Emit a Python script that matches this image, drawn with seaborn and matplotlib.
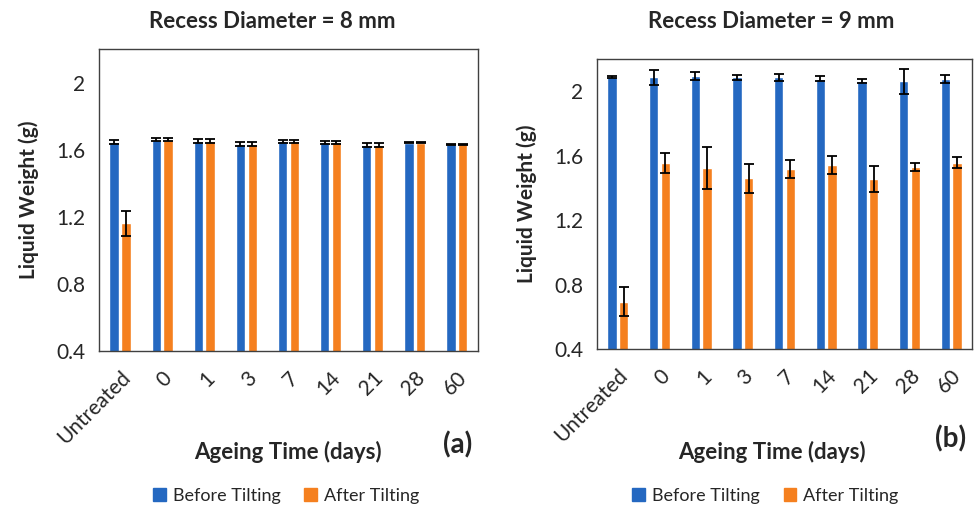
import seaborn as sns
import pandas as pd
import matplotlib.pyplot as plt
from matplotlib.patches import Patch

# ---------------- data ----------------
days = ['Untreated', '0', '1', '3', '7', '14', '21', '28', '60']
groups = ['Before Tilting', 'After Tilting']

# (a) recess diameter 8 mm
before_8 = [1.645, 1.660, 1.652, 1.634, 1.650, 1.644, 1.628, 1.642, 1.632]
before_8_err = [0.012, 0.010, 0.010, 0.014, 0.008, 0.010, 0.010, 0.004, 0.004]
after_8 = [1.160, 1.660, 1.652, 1.634, 1.650, 1.644, 1.628, 1.642, 1.632]
after_8_err = [0.075, 0.010, 0.010, 0.014, 0.008, 0.008, 0.010, 0.004, 0.004]

# (b) recess diameter 9 mm
before_9 = [2.087, 2.087, 2.097, 2.087, 2.087, 2.079, 2.064, 2.062, 2.077]
before_9_err = [0.006, 0.048, 0.025, 0.017, 0.020, 0.017, 0.012, 0.078, 0.023]
after_9 = [0.694, 1.556, 1.525, 1.459, 1.519, 1.544, 1.453, 1.532, 1.556]
after_9_err = [0.089, 0.062, 0.130, 0.088, 0.056, 0.056, 0.080, 0.025, 0.033]

colors = ['#2468C1', '#F5801F']

sns.set_style('white')
plt.rcParams['font.family'] = ['Lato', 'DejaVu Sans']

fig = plt.figure(figsize=(9.74, 5.05), dpi=100)
ax1 = fig.add_axes([0.1016, 0.305, 0.3891, 0.598])
ax2 = fig.add_axes([0.6129, 0.309, 0.3850, 0.574])


def draw_panel(ax, before, before_err, after, after_err, title, title_x, tag, legend_x, xlabel_x):
    df = pd.DataFrame({
        'day': days * 2,
        'weight': before + after,
        'group': [groups[0]] * len(days) + [groups[1]] * len(days),
    })
    sns.barplot(data=df, x='day', y='weight', hue='group', order=days,
                hue_order=groups, palette=colors, width=0.56, gap=0.21,
                errorbar=None, saturation=1, legend=False, ax=ax)
    errs = before_err + after_err
    for p, e in zip(ax.patches, errs):
        xc = p.get_x() + p.get_width() / 2
        ax.errorbar(xc, p.get_height(), yerr=e, color='black', lw=1.3,
                    capsize=3.6, capthick=1.3)

    ax.set_ylim(0.4, 2.2)
    ax.set_xlim(-0.5, 8.5)
    ax.set_yticks([0.4, 0.8, 1.2, 1.6, 2.0])
    ax.set_yticklabels(['0.4', '0.8', '1.2', '1.6', '2'])
    ax.tick_params(axis='y', length=5, width=1, color='#404040', labelsize=15, pad=5)
    ax.tick_params(axis='x', length=0, labelsize=15, pad=12)
    plt.setp(ax.get_xticklabels(), rotation=45, ha='right', rotation_mode='anchor')
    for s in ax.spines.values():
        s.set_visible(True)
        s.set_color('#404040')
        s.set_linewidth(1)

    # title on the same line in both panels
    fig.text(title_x, 1 - 22 / 505, title, ha='center', va='center',
             fontsize=16, fontweight='bold')
    ax.set_xlabel('Ageing Time (days)', fontsize=16, fontweight='bold')
    ax.xaxis.set_label_coords(xlabel_x, 1 - 452 / 505, transform=fig.transFigure)
    ax.xaxis.label.set_va('center')
    ax.set_ylabel('Liquid Weight (g)', fontsize=15, fontweight='bold', labelpad=12)
    ax.text(0.985, -0.31, tag, transform=ax.transAxes, ha='right', va='center',
            fontsize=20, fontweight='bold')

    handles = [Patch(color=c, label=g) for c, g in zip(colors, groups)]
    fig.legend(handles=handles, loc='center', bbox_to_anchor=(legend_x, 0.018),
               ncol=2, frameon=False, fontsize=13, handlelength=0.7,
               handleheight=0.7, handletextpad=0.4, columnspacing=1.3)


draw_panel(ax1, before_8, before_8_err, after_8, after_8_err,
           'Recess Diameter = 8 mm', 0.280, '(a)', 0.294, 288 / 974)
draw_panel(ax2, before_9, before_9_err, after_9, after_9_err,
           'Recess Diameter = 9 mm', 0.792, '(b)', 0.786, 772 / 974)

fig.savefig('out.png', dpi=100)
